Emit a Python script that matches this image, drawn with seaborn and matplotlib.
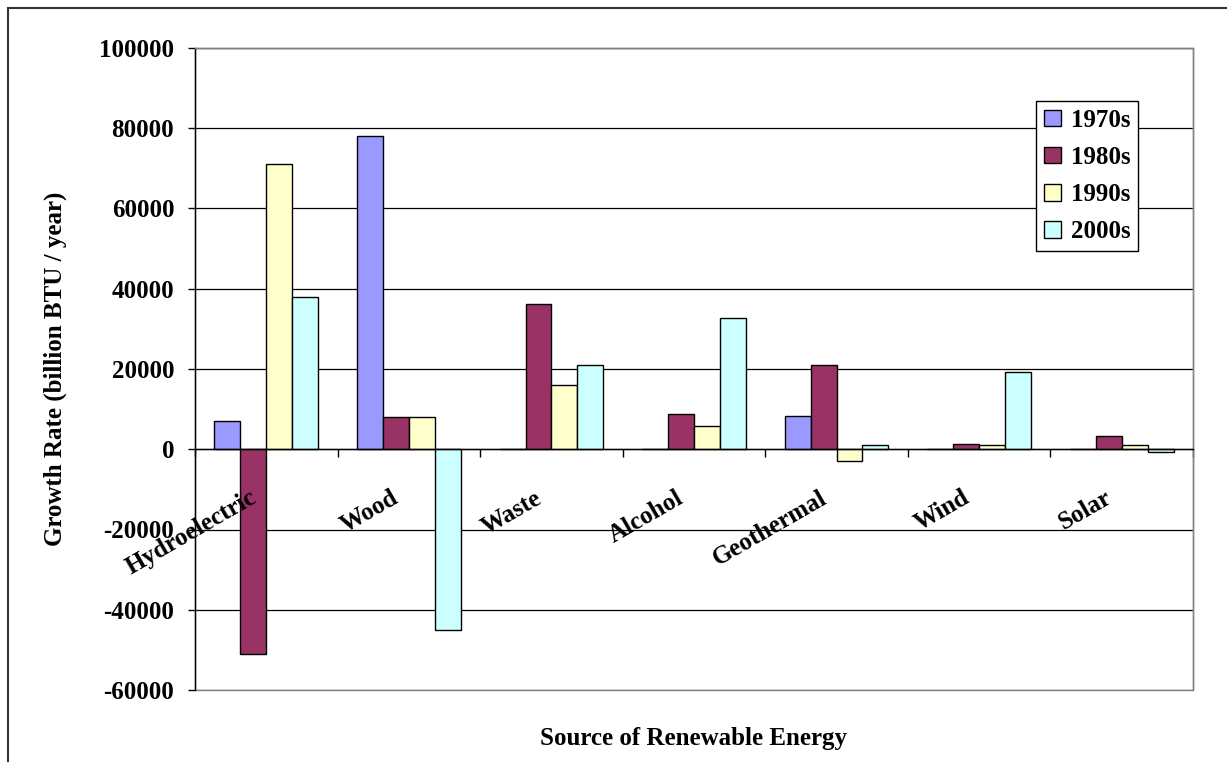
import numpy as np
import pandas as pd
import matplotlib
matplotlib.use("Agg")
import matplotlib.pyplot as plt
from matplotlib.patches import Rectangle
from matplotlib.transforms import offset_copy
import seaborn as sns

# Growth rate of renewable energy consumption, by source and decade
sources = ["Hydroelectric", "Wood", "Waste", "Alcohol", "Geothermal", "Wind", "Solar"]
decades = ["1970s", "1980s", "1990s", "2000s"]
growth_1970s = [7000, 78000, 0, 0, 8300, 0, 0]
growth_1980s = [-51000, 8000, 36300, 8800, 21000, 1400, 3200]
growth_1990s = [71000, 8000, 15900, 5900, -3000, 1000, 1000]
growth_2000s = [38000, -45000, 21100, 32800, 1100, 19200, -800]
y_ticks = [-60000, -40000, -20000, 0, 20000, 40000, 60000, 80000, 100000]
colors = ["#9999FF", "#993366", "#FFFFCC", "#CCFFFF"]

df = pd.DataFrame({
    "Source": sources * 4,
    "Decade": np.repeat(decades, len(sources)),
    "Growth": growth_1970s + growth_1980s + growth_1990s + growth_2000s,
})

sns.set_style("white")
plt.rcParams["font.family"] = ["Liberation Serif", "DejaVu Serif"]
plt.rcParams["font.weight"] = "bold"
plt.rcParams["text.color"] = "black"
plt.rcParams["axes.labelcolor"] = "black"
plt.rcParams["xtick.color"] = "black"
plt.rcParams["ytick.color"] = "black"
FS = 18

W, H = 1227, 762
fig = plt.figure(figsize=(W / 100, H / 100), dpi=100)
ax = fig.add_axes([195 / W, 1 - 690 / H, (1193 - 195) / W, (690 - 48) / H])

sns.barplot(data=df, x="Source", y="Growth", hue="Decade", order=sources,
            hue_order=decades, palette=colors, width=0.727, saturation=1,
            edgecolor="black", linewidth=1.0, errorbar=None, ax=ax, zorder=3)

ax.set_ylim(y_ticks[0], y_ticks[-1])
ax.set_xlim(-0.5, len(sources) - 0.5)
ax.set_yticks(y_ticks)
ax.set_yticklabels([str(v) for v in y_ticks], fontsize=FS, fontweight="bold",
                   color="black")
ax.tick_params(axis="y", which="major", length=5, width=1, direction="out",
               color="black", labelcolor="black", pad=10, left=True)
ax.yaxis.grid(True, color="black", linewidth=0.9, zorder=0)
ax.set_axisbelow(True)

# plot-area border in gray, category axis drawn through zero
for side in ["top", "right", "left"]:
    ax.spines[side].set_color("#808080")
    ax.spines[side].set_linewidth(1.0)
ax.spines["left"].set_color("black")
ax.spines["bottom"].set_position(("data", 0))
ax.spines["bottom"].set_color("black")
ax.spines["bottom"].set_linewidth(1.0)
ax.spines["bottom"].set_zorder(4)
ax.add_patch(Rectangle((0, 0), 1, 1, transform=ax.transAxes, fill=False,
                       edgecolor="#808080", linewidth=1.0, zorder=1, clip_on=False))

ax.set_xticks(range(len(sources)))
ax.set_xticklabels([""] * len(sources))
ax.set_xticks(np.arange(len(sources) + 1) - 0.5, minor=True)
ax.tick_params(axis="x", which="major", length=0)
ax.tick_params(axis="x", which="minor", length=6, width=1, direction="out",
               color="black", bottom=True)

label_tf = offset_copy(ax.transData, fig=fig, x=-12, y=-47, units="dots")
for i, name in enumerate(sources):
    ax.text(i, 0, name, transform=label_tf, rotation=30, rotation_mode="anchor",
            ha="right", va="center", fontsize=FS, fontweight="bold",
            color="black", zorder=5)

ax.set_xlabel("Source of Renewable Energy", fontsize=FS, fontweight="bold",
              color="black")
ax.xaxis.set_label_coords(0.5, -0.058)
ax.set_ylabel("Growth Rate (billion BTU / year)", fontsize=FS, fontweight="bold",
              color="black")
ax.yaxis.set_label_coords(-0.128, 0.5)

handles, labels = ax.get_legend_handles_labels()
leg = ax.legend(handles, labels, loc="upper left", bbox_to_anchor=(0.843, 0.918),
                borderaxespad=0, fancybox=False, framealpha=1, edgecolor="black",
                prop={"size": FS, "weight": "bold"}, handlelength=0.65,
                handleheight=0.65, handletextpad=0.4, labelspacing=0.57,
                borderpad=0.32, title=None)
leg.get_frame().set_linewidth(1.0)
leg.set_zorder(6)
for t in leg.get_texts():
    t.set_color("black")

# outer chart frame
fig.patches.append(Rectangle((8 / W, -0.1), 1.2, 1.1 - 8 / H, transform=fig.transFigure,
                             fill=False, edgecolor="#333333", linewidth=1.5))

fig.savefig("out.png", dpi=100)
